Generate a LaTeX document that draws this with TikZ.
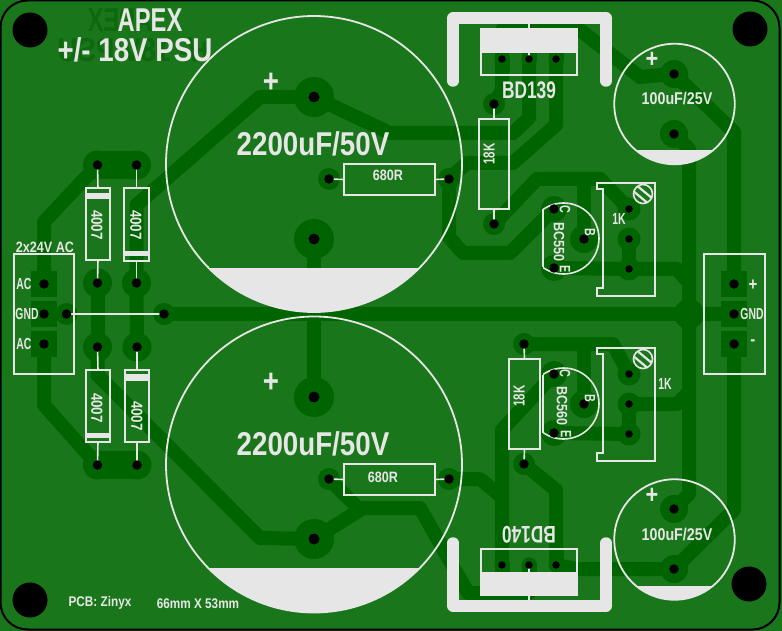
\documentclass[tikz,border=0pt]{standalone}
\usepackage{graphicx}
\usepackage{fontspec}
\newfontfamily\silkfont{Liberation Sans Bold}[FakeStretch=0.84]
\newfontfamily\silknarrow{Liberation Sans Bold}[FakeStretch=0.72]
\newfontfamily\silkslim{Liberation Sans Bold}[FakeStretch=0.65]
\definecolor{boardc}{HTML}{1A761A}
\definecolor{trackc}{HTML}{006400}
\definecolor{ghostc}{HTML}{0E680E}
\definecolor{silkc}{HTML}{E6E6E6}
\begin{document}
\begin{tikzpicture}[x=1pt,y=-1pt,
    dot/.style = {circle, fill, minimum size=#1,
                inner sep=0pt, outer sep=0pt},
    dot/.default = 9.5pt,
    pad/.style = {dot=#1, color=trackc},
    sqpad/.style = {rectangle, fill=trackc, minimum size=26pt, inner sep=0pt, outer sep=0pt},
    mounthole/.style = {dot=35pt, color=black},
    track/.style = {color=trackc, line width=14pt, line join=round},
    silkline/.style = {color=silkc, line width=1.6pt},
    silkbox/.style = {draw=silkc, line width=1.6pt, minimum width=#1, inner sep=0pt, outer sep=0pt},
    capbody/.style = {circle, draw=silkc, line width=1.8pt, minimum size=#1, inner sep=0pt, outer sep=0pt},
    heatsink/.style = {color=silkc, line width=11.5pt, line cap=round, line join=round},
    silk/.style = {text=silkc, inner sep=0pt, font=\silkfont\fontsize{#1}{#1}\selectfont},
    silkn/.style = {text=silkc, inner sep=0pt, font=\silknarrow\fontsize{#1}{#1}\selectfont},
    silks/.style = {text=silkc, inner sep=0pt, font=\silkslim\fontsize{#1}{#1}\selectfont},
    ghost/.style = {text=ghostc, inner sep=0pt, font=\silkfont\fontsize{#1}{#1}\selectfont},
    ]
    \useasboundingbox (0,0) rectangle (782,631);
    \fill[boardc] (0,0) rectangle (782,631);
    \draw[black, line width=2pt, rounded corners=27pt] (0.5,0.5) rectangle (779.5,629.5);

    % mirrored text of the far side
    \node[ghost=33, font=\silknarrow\fontsize{33}{33}\selectfont] at (120,20) (backa) {\reflectbox{APEX}};
    \node[ghost=33] at (135,50) (backb) {\reflectbox{+/- 18V PSU}};

    % pads
    \node[pad=29pt] at (97.5,165) (d1a) {};
    \node[pad=29pt] at (136.5,165) (d2a) {};
    \node[pad=29pt] at (97.5,283) (d1b) {};
    \node[pad=29pt] at (136.5,283) (d2b) {};
    \node[pad=29pt] at (97.5,347) (d3a) {};
    \node[pad=29pt] at (137,347) (d4a) {};
    \node[pad=29pt] at (97.5,465) (d3b) {};
    \node[pad=29pt] at (137,465) (d4b) {};
    \node[sqpad] at (44,284) (aca) {};
    \node[sqpad] at (44,314) (gnda) {};
    \node[sqpad] at (44,344) (acb) {};
    \node[pad=22pt] at (66.5,314) (gl) {};
    \node[pad=22pt] at (164,314) (gr) {};
    \node[sqpad] at (734,284) (outp) {};
    \node[sqpad] at (734,314) (outg) {};
    \node[sqpad] at (734,344) (outn) {};
    \node[pad=30pt] at (689,314) (star) {};
    \node[pad=40pt] at (314,97) (c1p) {};
    \node[pad=40pt] at (314,239) (c1n) {};
    \node[pad=40pt] at (314,397) (c2p) {};
    \node[pad=40pt] at (314,539) (c2n) {};
    \node[pad=28pt] at (674,74) (c3p) {};
    \node[pad=28pt] at (674,134) (c3n) {};
    \node[pad=28pt] at (674,509) (c4p) {};
    \node[pad=28pt] at (674,569) (c4n) {};
    \node[pad=22pt] at (329,179) (r1a) {};
    \node[pad=22pt] at (449,179) (r1b) {};
    \node[pad=22pt] at (329,479) (r2a) {};
    \node[pad=22pt] at (449,479) (r2b) {};
    \node[pad=22pt] at (494,104) (r3a) {};
    \node[pad=22pt] at (494,224) (r3b) {};
    \node[pad=22pt] at (524,344) (r4a) {};
    \node[pad=22pt] at (524,464) (r4b) {};
    \node[pad=26pt] at (554,209) (t1c) {};
    \node[pad=28pt] at (584,239) (t1b) {};
    \node[pad=26pt] at (554,268) (t1e) {};
    \node[pad=26pt] at (554,374) (t2c) {};
    \node[pad=28pt] at (584,404) (t2b) {};
    \node[pad=26pt] at (554,433) (t2e) {};
    \node[pad=23pt] at (629,209) (p1a) {};
    \node[pad=23pt] at (629,239) (p1b) {};
    \node[pad=23pt] at (629,269) (p1c) {};
    \node[pad=23pt] at (629,374) (p2a) {};
    \node[pad=23pt] at (629,404) (p2b) {};
    \node[pad=23pt] at (629,434) (p2c) {};
    \node[pad=15pt] at (502,59) (q1a) {};
    \node[pad=15pt] at (529,59) (q1b) {};
    \node[pad=15pt] at (556,59) (q1c) {};
    \node[pad=15pt] at (502,565) (q2a) {};
    \node[pad=15pt] at (529,565) (q2b) {};
    \node[pad=15pt] at (556,565) (q2c) {};

    % tracks
    \draw[track, line width=28pt, line cap=round] (d1a.center) -- (d2a.center);
    \draw[track, line width=28pt, line cap=round] (d3b.center) -- (d4b.center);
    \draw[track] (d1b.center) -- (d3a.center);
    \draw[track] (d2b.center) -- (d4a.center);
    \draw[track] (aca.center) -- (44,222) -- (d1a.center);
    \draw[track] (acb.center) -- (44,405) -- (d3b.center);
    \draw[track] (d2b.center) -- (136.5,205) -- (260,97) -- (c1p.center);
    \draw[track] (d3a.center) -- (97.5,375) -- (260,538) -- (c2n.center);
    \draw[track] (gr.center) -- (star.center) -- (outg.center);
    \draw[track] (c1n.center) -- (314,314) -- (c2p.center);
    \draw[track] (c1p.center) -- (390,133) -- (513,133) -- (529,118) -- (q1b.center);
    \draw[track] (r1b.center) -- (467,163) -- (513,163) -- (556,125) -- (q1c.center);
    \draw[track] (r1b.center) -- (449,237) -- (463,253) -- (510,253) -- (t1c.center);
    \draw[track, line width=15pt, line cap=round] (q1a.center) -- (502,70);
    \draw[track, line width=15pt, line cap=round] (q1b.center) -- (529,35);
    \draw[track, line width=15pt, line cap=round] (q1c.center) -- (556,35);
    \draw[track] (q1a.center) -- (502,90) -- (r3a.center);
    \draw[track] (q1a.center) -- (502,30) -- (580,30) -- (640,77) -- (c3p.center);
    \draw[track] (r3b.center) -- (537,179) -- (600,179) -- (p1a.center);
    \draw[track] (584,179) -- (t1b.center);
    \draw[track] (p1b.center) -- (p1c.center);
    \draw[track] (t1e.center) -- (p1c.center) -- (677,269) -- (689,283);
    \draw[track] (c3n.center) -- (689,149) -- (689,494) -- (c4p.center);
    \draw[track] (c3p.center) -- (734,132) -- (outp.center);
    \draw[track] (outn.center) -- (734,510) -- (c4n.center);
    \draw[track] (c4n.center) -- (577,569) -- (q2c.center);
    \draw[track] (r4b.center) -- (556,490) -- (q2c.center);
    \draw[track, line width=15pt, line cap=round] (q2a.center) -- (502,580);
    \draw[track, line width=15pt, line cap=round] (q2b.center) -- (529,580);
    \draw[track, line width=15pt, line cap=round] (q2c.center) -- (556,550);
    \draw[track] (r2a.center) -- (357,507);
    \draw[track] (c2n.center) -- (363,508) -- (420,508) -- (468,593) -- (529,593) -- (q2b.center);
    \draw[track] (r2b.center) -- (480,479) -- (502,497);
    \draw[track] (t2c.center) -- (502,430) -- (q2a.center);
    \draw[track] (r4a.center) -- (613,344) -- (p2a.center);
    \draw[track] (584,344) -- (t2b.center);
    \draw[track] (p2b.center) -- (p2c.center);
    \draw[track] (t2e.center) -- (p2c.center);
    \draw[track] (p2b.center) -- (677,404) -- (689,392);

    % silk: capacitors
    \node[capbody=296pt] at (314,164) (c1) {};
    \node[capbody=296pt] at (314,464.5) (c2) {};
    \node[capbody=120.5pt] at (674.5,104) (c3) {};
    \node[capbody=120.5pt] at (674.5,539.5) (c4) {};
    \begin{scope}
        \clip (c1.center) circle (148);
        \fill[silkc] (160,268) rectangle (470,320);
    \end{scope}
    \begin{scope}
        \clip (c2.center) circle (148);
        \fill[silkc] (160,568) rectangle (470,620);
    \end{scope}
    \begin{scope}
        \clip (c3.center) circle (60.2);
        \fill[silkc] (610,150) rectangle (740,170);
    \end{scope}
    \begin{scope}
        \clip (c4.center) circle (60.2);
        \fill[silkc] (610,586) rectangle (740,605);
    \end{scope}

    % silk: diodes
    \node[silkbox=24pt, minimum height=72pt] at (98,224) (d1) {};
    \node[silkbox=25pt, minimum height=73pt] at (136.5,224.5) (d2) {};
    \node[silkbox=24pt, minimum height=72pt] at (98,406) (d3) {};
    \node[silkbox=24pt, minimum height=72pt] at (137,406) (d4) {};
    \fill[silkc] (86,193) rectangle (110,199);
    \fill[silkc] (124,251) rectangle (149,256);
    \fill[silkc] (86,433) rectangle (110,438);
    \fill[silkc] (125,374) rectangle (149,381);
    \draw[silkline] (d1a.center) -- (d1.north);
    \draw[silkline] (d2a.center) -- (d2.north);
    \draw[silkline] (d1b.center) -- (d1.south);
    \draw[silkline] (d2b.center) -- (d2.south);
    \draw[silkline] (d3a.center) -- (d3.north);
    \draw[silkline] (d4a.center) -- (d4.north);
    \draw[silkline] (d3b.center) -- (d3.south);
    \draw[silkline] (d4b.center) -- (d4.south);
    \draw[silkline] (gl.center) -- (gr.center);

    % silk: resistors
    \node[silkbox=91pt, minimum height=31pt] at (389.5,179.5) (r1) {};
    \node[silkbox=91pt, minimum height=31pt] at (389.5,479.5) (r2) {};
    \node[silkbox=30pt, minimum height=90pt] at (494,164) (r3) {};
    \node[silkbox=31pt, minimum height=90pt] at (524.5,404) (r4) {};
    \draw[silkline] (r1a.center) -- (r1.west);
    \draw[silkline] (r1b.center) -- (r1.east);
    \draw[silkline] (r2a.center) -- (r2.west);
    \draw[silkline] (r2b.center) -- (r2.east);
    \draw[silkline] (r3a.center) -- (r3.north);
    \draw[silkline] (r3b.center) -- (r3.south);
    \draw[silkline] (r4a.center) -- (r4.north);
    \draw[silkline] (r4b.center) -- (r4.south);

    % silk: connectors
    \node[silkbox=60pt, minimum height=120pt] at (44,314) (cnl) {};
    \node[silkbox=61pt, minimum height=120pt] at (734.5,314) (cnr) {};

    % silk: transistors
    \coordinate (t1) at (563.5,238.5);
    \coordinate (t2) at (563.5,403.5);
    \begin{scope}
        \clip (543,190) rectangle (610,290);
        \draw[silkline] (t1) circle (35.5);
    \end{scope}
    \begin{scope}
        \clip (543,355) rectangle (610,450);
        \draw[silkline] (t2) circle (35.5);
    \end{scope}
    \draw[silkline] (543,209.5) -- (543,267.5);
    \draw[silkline] (543,374.5) -- (543,432.5);

    % silk: trimmers
    \draw[silkline] (597,183) -- (597,189) -- (603,189) -- (603,288) -- (597,288) -- (597,296) -- (655,296) -- (655,183) -- cycle;
    \draw[silkline] (597,348) -- (597,354) -- (603,354) -- (603,453) -- (597,453) -- (597,461) -- (655,461) -- (655,348) -- cycle;
    \node[dot=19pt, fill=none, draw=silkc, line width=1.6pt] at (643,194) (s1) {};
    \node[dot=19pt, fill=none, draw=silkc, line width=1.6pt] at (643,359) (s2) {};
    \begin{scope}
        \clip (s1.center) circle (9);
        \draw[silkline, line width=2.2pt] (635,184) -- (653,199);
        \draw[silkline, line width=2.2pt] (632,190) -- (650,205);
    \end{scope}
    \begin{scope}
        \clip (s2.center) circle (9);
        \draw[silkline, line width=2.2pt] (635,349) -- (653,364);
        \draw[silkline, line width=2.2pt] (632,355) -- (650,370);
    \end{scope}

    % silk: power transistors
    \draw[heatsink] (453,81) -- (453,18) -- (606,18) -- (606,81);
    \draw[heatsink] (453,543) -- (453,606) -- (606,606) -- (606,543);
    \node[silkbox=96pt, minimum height=46pt] at (529,52) (q1) {};
    \node[silkbox=96pt, minimum height=46pt] at (529,572) (q2) {};
    \fill[silkc] (q1.north west) rectangle (577,53);
    \fill[silkc] (481,572) rectangle (q2.south east);
    \draw[silkline] (529,20) -- (q1.north);
    \draw[silkline] (q1b.center) -- (529,53);
    \draw[silkline] (q2.south) -- (529,604);
    \draw[silkline] (q2b.center) -- (529,572);

    % drill holes
    \foreach \n in {d1a,d2a,d1b,d2b,d3a,d4a,d3b,d4b,aca,gnda,acb,gl,gr,outp,outg,outn,c3p,c3n,c4p,c4n,r1a,r1b,r2a,r2b,r3a,r3b,r4a,r4b,t1c,t1b,t1e,t2c,t2b,t2e}
        \node[dot, color=black] at (\n.center) (hole\n) {};
    \foreach \n in {p1a,p1b,p1c,p2a,p2b,p2c,q1a,q1b,q1c,q2a,q2b,q2c}
        \node[dot=7.5pt, color=black] at (\n.center) (hole\n) {};
    \foreach \n in {c1p,c1n,c2p,c2n}
        \node[dot=11pt, color=black] at (\n.center) (hole\n) {};
    \node[mounthole] at (30,30) (mta) {};
    \node[mounthole] at (750,29) (mtb) {};
    \node[mounthole] at (30,600) (mtc) {};
    \node[mounthole] at (749,584) (mtd) {};

    % labels
    \node[silkn=33] at (150,20) (ttla) {APEX};
    \node[silk=33] at (135,50) (ttlb) {+/- 18V PSU};
    \node[silk=33] at (313,144) (c1v) {2200uF/50V};
    \node[silk=33] at (313,444) (c2v) {2200uF/50V};
    \node[silk=17] at (677,99) (c3v) {100uF/25V};
    \node[silk=17] at (677,535) (c4v) {100uF/25V};
    \node[silk=33] at (271,83) (c1s) {+};
    \node[silk=33] at (271,383) (c2s) {+};
    \node[silk=26] at (652,60) (c3s) {+};
    \node[silk=26] at (652,496) (c4s) {+};
    \node[silk=15] at (388,175) (r1v) {680R};
    \node[silk=15] at (383,477) (r2v) {680R};
    \node[silkn=16, rotate=90] at (489,154) (r3v) {18K};
    \node[silkn=16, rotate=90] at (519,396) (r4v) {18K};
    \node[silk=16, rotate=-90] at (97,225) (d1v) {4007};
    \node[silk=16, rotate=-90] at (136,225) (d2v) {4007};
    \node[silk=16, rotate=-90] at (97,408) (d3v) {4007};
    \node[silk=16, rotate=-90] at (137,416) (d4v) {4007};
    \node[silkn=24] at (529,90) (q1v) {BD139};
    \node[silkn=24, rotate=180] at (529,535) (q2v) {BD140};
    \node[silk=15, rotate=-90] at (559,242) (t1v) {BC550};
    \node[silk=15, rotate=-90] at (562,406) (t2v) {BC560};
    \node[silkn=15, rotate=-90] at (565,209) (t1cv) {C};
    \node[silkn=15, rotate=-90] at (590,232) (t1bv) {B};
    \node[silkn=15, rotate=-90] at (565,269) (t1ev) {E};
    \node[silkn=15, rotate=-90] at (565,373) (t2cv) {C};
    \node[silkn=15, rotate=-90] at (590,398) (t2bv) {B};
    \node[silkn=15, rotate=-90] at (566,434) (t2ev) {E};
    \node[silks=16] at (619,219) (p1v) {1K};
    \node[silks=16] at (665,384) (p2v) {1K};
    \node[silk=15] at (45,247) (cnlv) {2x24V AC};
    \node[silks=16] at (24,284) (acav) {AC};
    \node[silks=16] at (27,314) (gndav) {GND};
    \node[silks=16] at (24,344) (acbv) {AC};
    \node[silk=18] at (753,285) (outpv) {+};
    \node[silks=16] at (752,314) (outgv) {GND};
    \node[silk=18] at (753,343) (outnv) {-};
    \node[silk=14] at (100,603) (pcbv) {PCB: Zinyx};
    \node[silk=14] at (198,604) (sizev) {66mm X 53mm};
\end{tikzpicture}
\end{document}
